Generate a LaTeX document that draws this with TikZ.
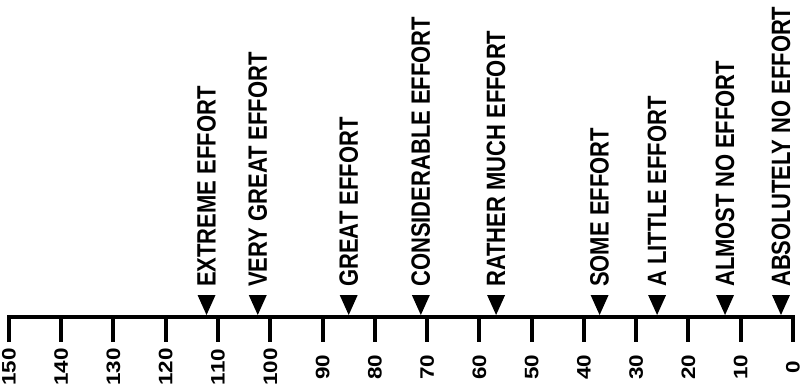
\documentclass[tikz,border=0pt]{standalone}
\usepackage{fontspec}
\newfontfamily\effortfont{Liberation Sans}[FakeStretch=0.83]
\newfontfamily\tickfont{Liberation Sans}[FakeStretch=1.15]

\tikzset{
  effortlabel/.style={rotate=90, anchor=west, inner sep=0pt,
    font=\effortfont\bfseries\fontsize{26.5}{30}\selectfont},
  ticklabel/.style={rotate=90, anchor=center, inner sep=0pt,
    font=\tickfont\bfseries\fontsize{19.5}{22}\selectfont},
  axisline/.style={line width=4pt, line join=miter}
}

\begin{document}
\begin{tikzpicture}[x=1pt, y=-1pt]
  \useasboundingbox (0,0) rectangle (803,390);
  \begin{scope}[shift={(793,0)}, x=-5.227pt]
    % axis with end ticks
    \draw[axisline] (150,342) -- (150,317) -- (0,317) -- (0,342);
    \foreach \v in {10,20,...,140}
      \draw[axisline] (\v,317) -- (\v,342);
    \foreach \v in {0,10,...,150}
      \node[ticklabel] (tick\v) at (\v,367) {\v};
    % markers with their labels
    \foreach \v/\txt [count=\i] in {112.2/EXTREME EFFORT, 102.4/VERY GREAT EFFORT,
        85/GREAT EFFORT, 71.2/CONSIDERABLE EFFORT, 56.8/RATHER MUCH EFFORT,
        37/SOME EFFORT, 26/A LITTLE EFFORT, 13/ALMOST NO EFFORT,
        2.3/ABSOLUTELY NO EFFORT}
    {
      \fill ([xshift=-9pt]\v,295) -- ([xshift=9pt]\v,295) -- (\v,315) -- cycle;
      \node[effortlabel] (effort\i) at (\v,287) {\txt};
    }
  \end{scope}
\end{tikzpicture}
\end{document}
